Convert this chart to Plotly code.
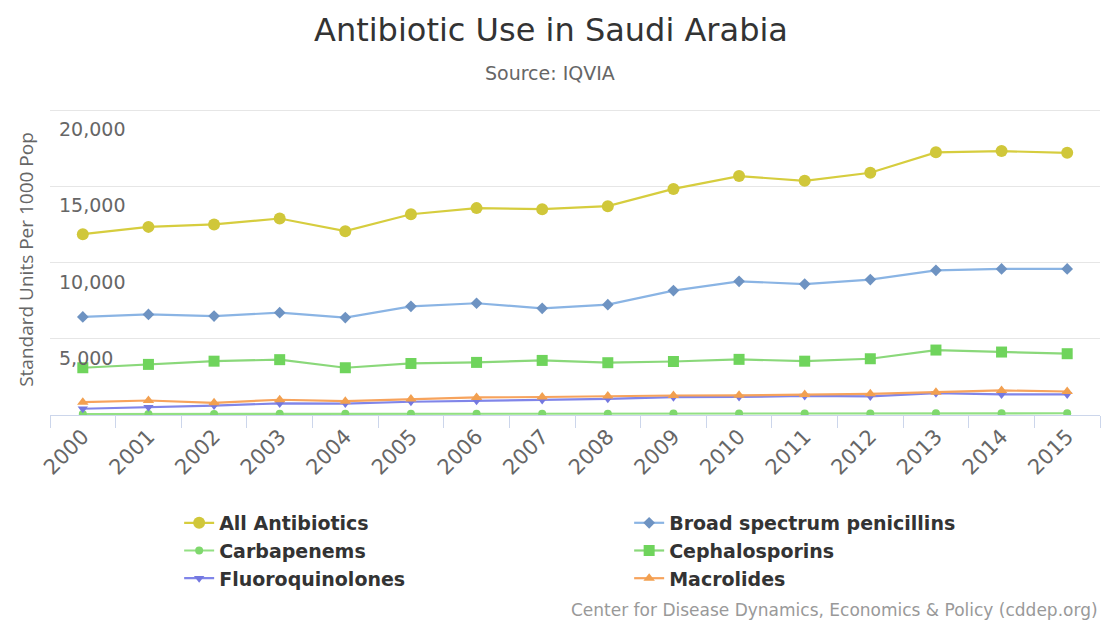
import plotly.graph_objects as go

# Annual antibiotic consumption, Saudi Arabia (standard units per 1000 population)
years = list(range(2000, 2016))

all_antibiotics = [11860, 12340, 12500, 12890, 12060, 13170, 13570, 13500,
                   13700, 14830, 15670, 15360, 15890, 17230, 17310, 17200]
broad_spectrum_penicillins = [6430, 6600, 6490, 6710, 6390, 7130, 7330, 7000,
                              7240, 8160, 8770, 8590, 8880, 9490, 9580, 9580]
carbapenems = [60, 65, 70, 75, 75, 80, 85, 90,
               90, 95, 100, 100, 105, 110, 115, 115]
cephalosporins = [3100, 3320, 3530, 3630, 3100, 3380, 3450, 3580,
                  3430, 3510, 3650, 3530, 3690, 4260, 4130, 4020]
fluoroquinolones = [410, 510, 620, 760, 750, 870, 940, 980,
                    1060, 1170, 1180, 1250, 1220, 1430, 1350, 1350]
macrolides = [840, 950, 800, 1000, 910, 1050, 1150, 1180,
              1240, 1280, 1290, 1350, 1390, 1500, 1610, 1540]

y_ticks = [5000, 10000, 15000, 20000]
y_tick_text = ["5,000", "10,000", "15,000", "20,000"]

series = [
    ("All Antibiotics", all_antibiotics, "#d6cd3e", "#d0c73a", "circle", 12),
    ("Broad spectrum penicillins", broad_spectrum_penicillins, "#8ab4e4", "#6e93c2", "diamond", 9),
    ("Carbapenems", carbapenems, "#93e083", "#7fd86d", "circle", 8),
    ("Cephalosporins", cephalosporins, "#8ad87a", "#6fd45c", "square", 11),
    ("Fluoroquinolones", fluoroquinolones, "#8085e9", "#7478e0", "triangle-down", 9),
    ("Macrolides", macrolides, "#f7a35c", "#f2a050", "triangle-up", 10),
]

fig = go.Figure()
for name, values, line_color, marker_color, symbol, size in series:
    fig.add_trace(go.Scatter(
        x=years, y=values, name=name, mode="lines+markers",
        line=dict(color=line_color, width=2.2),
        marker=dict(color=marker_color, symbol=symbol, size=size, line=dict(width=0)),
    ))

fig.update_layout(
    width=1109, height=623,
    margin=dict(l=50, r=9, t=104, b=208),
    paper_bgcolor="white", plot_bgcolor="white",
    font=dict(family="DejaVu Sans", color="#333333"),
    showlegend=True,
    legend=dict(
        orientation="h", x=0.123, xanchor="left", y=-0.286, yanchor="top",
        entrywidth=405, entrywidthmode="pixels",
        font=dict(size=19, color="#333333", family="DejaVu Sans", weight="bold"),
        itemwidth=30, tracegroupgap=0,
    ),
    xaxis=dict(
        range=[1999.5, 2015.5], tickvals=years, ticktext=[str(y) for y in years],
        tickangle=-45, ticks="", showgrid=False, zeroline=False,
        ticklabeloverflow="allow",
        showline=True, linecolor="#ccd6eb", linewidth=1,
        tickfont=dict(size=21, color="#666666"),
        minor=dict(tickvals=[y - 0.5 for y in years] + [2015.5], ticks="outside",
                   ticklen=12, tickcolor="#ccd6eb", showgrid=False),
    ),
    yaxis=dict(
        range=[0, 20400], tickvals=y_ticks, ticktext=y_tick_text,
        ticklabelposition="inside bottom", ticklabelshift=6, ticklabelstandoff=6,
        ticklabeloverflow="allow",
        showgrid=True, gridcolor="#e6e6e6", zeroline=False, showline=False,
        tickfont=dict(size=19, color="#666666"),
        title=dict(text="Standard Units Per 1000 Pop", standoff=20,
                   font=dict(size=19, color="#666666", family="Open Sans")),
    ),
    annotations=[
        dict(text="Antibiotic Use in Saudi Arabia",
             xref="paper", yref="paper", x=0.477, y=1.238, xanchor="center", yanchor="middle",
             showarrow=False, font=dict(size=32, color="#333333")),
        dict(text="Source: IQVIA",
             xref="paper", yref="paper", x=0.476, y=1.0997, xanchor="center", yanchor="middle",
             showarrow=False, font=dict(size=19, color="#666666")),
        dict(text="Center for Disease Dynamics, Economics &amp; Policy (cddep.org)",
             xref="paper", yref="paper", x=1.0, y=-0.627, xanchor="right", yanchor="middle",
             showarrow=False, font=dict(size=17, color="#999999")),
    ],
)

fig.write_html("out.html")
